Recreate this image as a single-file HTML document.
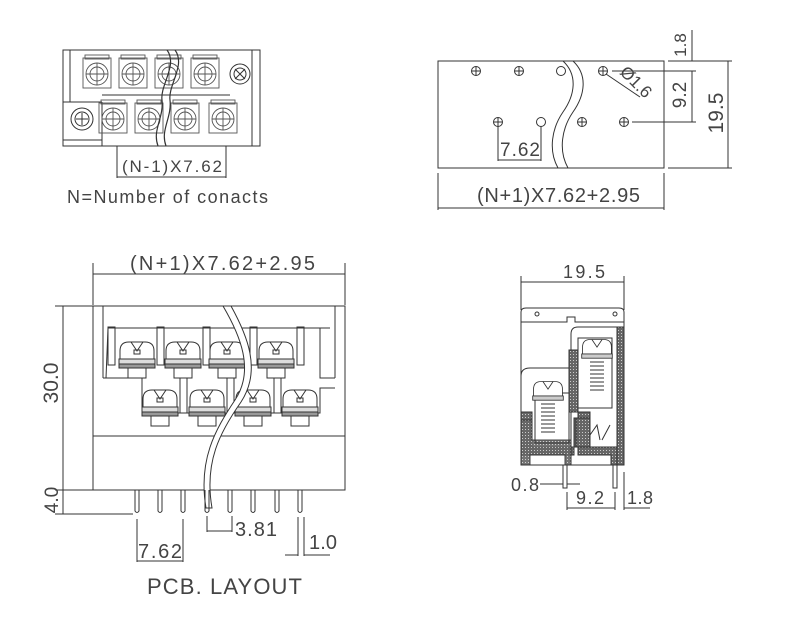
<!DOCTYPE html>
<html><head><meta charset="utf-8"><style>
html,body{margin:0;padding:0;background:#fff}
svg{display:block}
text{font-family:"Liberation Sans",sans-serif;fill:#444;font-weight:normal}
</style></head><body>
<svg width="800" height="631" viewBox="0 0 800 631" xmlns="http://www.w3.org/2000/svg">
<defs>
<g id="sc" fill="none" stroke="#333" stroke-width="1">
<path d="M-17,7 L-17,-1 Q-17,-10 -8,-10 L8,-10 Q17,-10 17,-1 L17,7 Z" fill="#fff"/>
<path d="M-6,-10 L0,-1 L6,-10"/>
<rect x="-3" y="-2" width="6" height="4"/>
<rect x="-18" y="7" width="36" height="5" fill="#ddd"/>
<rect x="-18" y="12" width="36" height="4" fill="#999"/>
<rect x="-9" y="16" width="18" height="10" fill="#fff"/>
</g>
<g id="fs" fill="none" stroke="#555" stroke-width="0.9">
<rect x="-14" y="-16" width="28" height="30"/>
<circle r="11"/><circle r="7"/>
<path d="M-11,0 H11 M0,-11 V11"/>
<rect x="-12" y="-19" width="24" height="4"/>
</g>
<g id="ph" fill="none" stroke="#333" stroke-width="1"><circle r="4.5"/><path d="M-4.5,0H4.5M0,-4.5V4.5"/></g>
<pattern id="hat" width="3" height="3" patternUnits="userSpaceOnUse"><rect width="3" height="3" fill="#666"/><rect width="1" height="1" fill="#ccc"/></pattern>
</defs>

<g stroke="#333" stroke-width="1" fill="none">
<!-- TOP LEFT VIEW -->
<rect x="63" y="50" width="197" height="96"/>
<line x1="70" y1="50" x2="70" y2="102"/>
<line x1="63" y1="102" x2="102" y2="102"/>
<line x1="102" y1="102" x2="102" y2="146"/>
<line x1="63" y1="140" x2="102" y2="140"/>
<line x1="252" y1="50" x2="252" y2="146"/>
<line x1="102" y1="95" x2="230" y2="95"/>
<use href="#fs" x="97" y="74"/><use href="#fs" x="133" y="74"/><use href="#fs" x="169" y="74"/><use href="#fs" x="205" y="74"/>
<use href="#fs" x="113" y="119"/><use href="#fs" x="149" y="119"/><use href="#fs" x="185" y="119"/><use href="#fs" x="223" y="119"/>
<circle cx="240" cy="74" r="10"/><circle cx="240" cy="74" r="6"/><path d="M235,69L245,79M245,69L235,79"/>
<circle cx="82" cy="119" r="11"/><circle cx="82" cy="119" r="7"/><path d="M76,119H88M82,113V125"/>
<path d="M167,50 C178,65 160,85 162,100 C164,118 152,130 158,146" stroke-width="1.2"/>
<path d="M175,50 C186,65 168,85 170,100 C172,118 160,130 166,146" stroke-width="1.2"/>
<line x1="117" y1="146" x2="117" y2="178"/>
<line x1="226" y1="146" x2="226" y2="178"/>
<line x1="117" y1="177" x2="226" y2="177"/>

<!-- TOP RIGHT VIEW -->
<rect x="438" y="61" width="226" height="107"/>
<use href="#ph" x="476" y="71"/><use href="#ph" x="519" y="71"/><use href="#ph" x="603" y="71"/>
<circle cx="561" cy="71" r="4.5"/>
<use href="#ph" x="498" y="122"/><use href="#ph" x="582" y="122"/><use href="#ph" x="624" y="122"/>
<circle cx="541" cy="122" r="4.5"/>
<path d="M563,61 C578,75 575,95 563,112 C552,128 548,150 558,168"/>
<path d="M573,61 C588,75 585,95 573,112 C562,128 558,150 568,168"/>
<line x1="612" y1="71" x2="696" y2="71"/>
<line x1="632" y1="122" x2="696" y2="122"/>
<line x1="606" y1="74" x2="640" y2="97"/>
<line x1="692" y1="30" x2="692" y2="61"/>
<line x1="692" y1="71" x2="692" y2="122"/>
<line x1="668" y1="61" x2="732" y2="61"/>
<line x1="668" y1="168" x2="732" y2="168"/>
<line x1="728" y1="61" x2="728" y2="168"/>
<line x1="498" y1="126" x2="498" y2="161"/>
<line x1="541" y1="126" x2="541" y2="161"/>
<line x1="498" y1="160" x2="541" y2="160"/>
<line x1="438" y1="173" x2="438" y2="210"/>
<line x1="664" y1="173" x2="664" y2="210"/>
<line x1="438" y1="208" x2="664" y2="208"/>

<!-- BOTTOM LEFT VIEW -->
<line x1="93" y1="263" x2="93" y2="305"/>
<line x1="345" y1="263" x2="345" y2="305"/>
<line x1="93" y1="274" x2="345" y2="274"/>
<rect x="93" y="306" width="252" height="184"/>
<line x1="93" y1="436" x2="345" y2="436"/>
<line x1="103" y1="306" x2="103" y2="378"/>
<line x1="335" y1="306" x2="335" y2="378"/>
<line x1="108" y1="328" x2="330" y2="328"/>
<path d="M103,378 H142 V413 H320 V388 H335"/>
<path d="M108,328 L106,378"/>
<path d="M320,328 L320,378 H335"/>
<rect x="108" y="327" width="7" height="38"/>
<rect x="157" y="327" width="7" height="38"/>
<rect x="203" y="327" width="7" height="38"/>
<rect x="250" y="327" width="7" height="38"/>
<rect x="297" y="327" width="7" height="38"/>
<rect x="180" y="378" width="7" height="35"/>
<rect x="227" y="378" width="7" height="35"/>
<rect x="274" y="378" width="7" height="35"/>
<use href="#sc" x="137" y="352"/><use href="#sc" x="183" y="352"/><use href="#sc" x="227" y="352"/><use href="#sc" x="276" y="352"/>
<use href="#sc" x="160" y="400"/><use href="#sc" x="207" y="400"/><use href="#sc" x="253" y="400"/><use href="#sc" x="300" y="400"/>
<path fill="#fff" d="M223,306 C240,335 255,370 235,400 C215,430 198,460 206,508 L212,508 C204,462 220,432 241,402 C262,370 247,335 231,306 Z"/>
<g>
<path d="M135,490 V511 Q137,514 139,511 V490"/>
<path d="M158,490 V511 Q160,514 162,511 V490"/>
<path d="M181,490 V511 Q183,514 185,511 V490"/>
<path d="M205,490 V511 Q207,514 209,511 V490"/>
<path d="M228,490 V511 Q230,514 232,511 V490"/>
<path d="M251,490 V511 Q253,514 255,511 V490"/>
<path d="M275,490 V511 Q277,514 279,511 V490"/>
<path d="M298,490 V511 Q300,514 302,511 V490"/>
</g>
<line x1="55" y1="306" x2="93" y2="306"/>
<line x1="55" y1="490" x2="93" y2="490"/>
<line x1="55" y1="514" x2="133" y2="514"/>
<line x1="63" y1="306" x2="63" y2="514"/>
<line x1="137" y1="519" x2="137" y2="562"/>
<line x1="183" y1="519" x2="183" y2="562"/>
<line x1="137" y1="561" x2="183" y2="561"/>
<line x1="207" y1="516" x2="207" y2="532"/>
<line x1="232" y1="516" x2="232" y2="532"/>
<line x1="207" y1="531" x2="232" y2="531"/>
<line x1="298" y1="517" x2="298" y2="556"/>
<line x1="304" y1="517" x2="304" y2="556"/>
<line x1="285" y1="555" x2="298" y2="555"/>
<line x1="304" y1="555" x2="330" y2="555"/>

<!-- BOTTOM RIGHT VIEW -->
<line x1="521" y1="276" x2="521" y2="310"/>
<line x1="624" y1="276" x2="624" y2="310"/>
<line x1="521" y1="282" x2="624" y2="282"/>
<path d="M521,465 V312 Q521,308 526,308 H619 Q624,308 624,312 V465 Z"/>
<path d="M521,322 H567 V317 H575 V322 H624"/>
<circle cx="537" cy="314" r="2"/><circle cx="615" cy="314" r="2"/>
<path d="M571,465 V334 Q571,327 578,327 H617"/>
<path d="M521,376 Q521,368 530,368 H571"/>
<rect x="617" y="327" width="7" height="138" fill="url(#hat)"/>
<path d="M569,350 H578 V412 H569 Z" fill="url(#hat)"/>
<path d="M521,412 H532 V447 H578 V412 H590 V418 H574 V455 H521 Z" fill="url(#hat)"/>
<path d="M521,447 V465 H530 V455 H565 V465 H571 V440 H532 V420 H521 Z" fill="url(#hat)" opacity="0.9"/>
<path d="M576,418 H590 V447 H576 Z" fill="url(#hat)"/>
<path d="M578,447 H617 V465 H611 V455 H578 Z" fill="url(#hat)"/>
<rect x="578" y="338" width="34" height="70"/>
<rect x="535" y="393" width="34" height="50"/>
<g transform="translate(597,348) scale(0.85)"><path d="M-17,7 L-17,-1 Q-17,-10 -8,-10 L8,-10 Q17,-10 17,-1 L17,7 Z" fill="#fff"/><path d="M-6,-10 L0,-1 L6,-10"/><rect x="-18" y="7" width="36" height="5" fill="#ccc"/></g>
<g transform="translate(548,390) scale(0.85)"><path d="M-17,7 L-17,-1 Q-17,-10 -8,-10 L8,-10 Q17,-10 17,-1 L17,7 Z" fill="#fff"/><path d="M-6,-10 L0,-1 L6,-10"/><rect x="-18" y="7" width="36" height="5" fill="#ccc"/></g>
<path d="M590,362 h14 M590,366 h14 M590,370 h14 M590,374 h14 M590,378 h14 M590,382 h14 M590,386 h14 M590,390 h14"/>
<path d="M541,404 h14 M541,408 h14 M541,412 h14 M541,416 h14 M541,420 h14 M541,424 h14 M541,428 h14 M541,432 h14"/>
<path d="M590,435 L597,425 L600,440 M602,440 L610,425"/>
<path d="M563,465 V488 H567 V465"/>
<path d="M613,465 V488 H617 V465"/>
<line x1="540" y1="484" x2="563" y2="484"/>
<line x1="567" y1="484" x2="580" y2="484"/>
<line x1="567" y1="492" x2="567" y2="510"/>
<line x1="615" y1="492" x2="615" y2="510"/>
<line x1="567" y1="508" x2="615" y2="508"/>
<line x1="624" y1="472" x2="624" y2="510"/>
<line x1="624" y1="508" x2="650" y2="508"/>
</g>

<!-- TEXT -->
<text x="122" y="172" font-size="17" textLength="100" lengthAdjust="spacing">(N-1)X7.62</text>
<text x="67" y="203" font-size="18" textLength="201" lengthAdjust="spacing">N=Number of conacts</text>
<text x="477" y="202" font-size="20" textLength="163" lengthAdjust="spacing">(N+1)X7.62+2.95</text>
<text x="500" y="156" font-size="19" textLength="40" lengthAdjust="spacing">7.62</text>
<text font-size="17" text-anchor="middle" transform="translate(686,45) rotate(-90)">1.8</text>
<text font-size="19" text-anchor="middle" transform="translate(686,95) rotate(-90)">9.2</text>
<text font-size="21" text-anchor="middle" transform="translate(723,113) rotate(-90)">19.5</text>
<text font-size="17" text-anchor="middle" transform="translate(632,86) rotate(45)">Ø1.6</text>
<text x="130" y="270" font-size="20" textLength="185" lengthAdjust="spacing">(N+1)X7.62+2.95</text>
<text font-size="21" text-anchor="middle" transform="translate(58,383) rotate(-90)">30.0</text>
<text font-size="19" text-anchor="middle" transform="translate(58,500) rotate(-90)">4.0</text>
<text x="138" y="558" font-size="20" textLength="44" lengthAdjust="spacing">7.62</text>
<text x="235" y="536" font-size="20" textLength="42" lengthAdjust="spacing">3.81</text>
<text x="309" y="549" font-size="20" textLength="28" lengthAdjust="spacing">1.0</text>
<text x="147" y="594" font-size="22" textLength="155" lengthAdjust="spacing">PCB. LAYOUT</text>
<text x="563" y="278" font-size="18" textLength="42" lengthAdjust="spacing">19.5</text>
<text x="511" y="491" font-size="18" textLength="28" lengthAdjust="spacing">0.8</text>
<text x="576" y="504" font-size="18" textLength="28" lengthAdjust="spacing">9.2</text>
<text x="627" y="504" font-size="18" textLength="26" lengthAdjust="spacing">1.8</text>
</svg>
</body></html>
